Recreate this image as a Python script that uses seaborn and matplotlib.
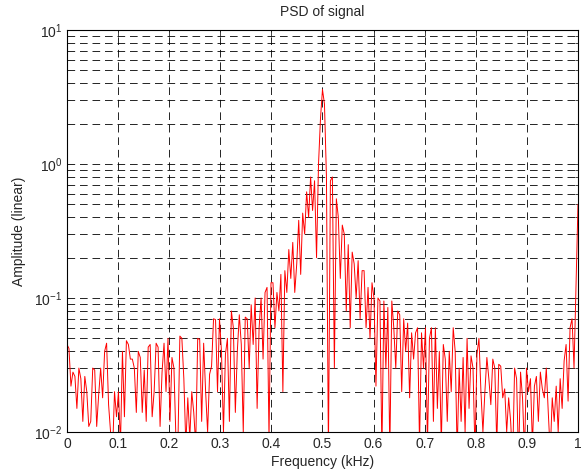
import numpy as np
import pandas as pd
import matplotlib
matplotlib.use('Agg')
import matplotlib.pyplot as plt
import matplotlib.ticker as mticker
import seaborn as sns

# Valores (PSD, escala lineal), por tramos de 0.1 kHz
psd_00_01 = [0.045, 0.042, 0.022, 0.028, 0.026, 0.015, 0.030, 0.025, 0.012, 0.026,
             0.020, 0.011, 0.012, 0.030, 0.029, 0.011, 0.019, 0.030, 0.018, 0.040,
             0.046, 0.016, 0.010, 0.007, 0.020, 0.013]
psd_01_02 = [0.020, 0.008, 0.040, 0.013, 0.048, 0.045, 0.035, 0.035, 0.030, 0.014,
             0.040, 0.036, 0.014, 0.029, 0.012, 0.043, 0.045, 0.013, 0.020, 0.046,
             0.043, 0.011, 0.028, 0.046, 0.020, 0.050]
psd_02_03 = [0.012, 0.036, 0.030, 0.009, 0.008, 0.052, 0.050, 0.025, 0.008, 0.018,
             0.009, 0.020, 0.014, 0.008, 0.050, 0.049, 0.012, 0.046, 0.020, 0.010,
             0.027, 0.031, 0.070, 0.069, 0.020, 0.070]
psd_03_04 = [0.040, 0.010, 0.038, 0.050, 0.012, 0.080, 0.060, 0.014, 0.040, 0.075,
             0.045, 0.010, 0.072, 0.070, 0.030, 0.089, 0.045, 0.100, 0.015, 0.060,
             0.100, 0.035, 0.110, 0.120, 0.009, 0.130]
psd_04_05 = [0.130, 0.060, 0.110, 0.080, 0.150, 0.020, 0.160, 0.110, 0.230, 0.140,
             0.260, 0.110, 0.180, 0.380, 0.150, 0.430, 0.300, 0.620, 0.400, 0.800,
             0.450, 0.750, 0.200, 1.000, 2.200, 3.600]
psd_05_06 = [2.800, 0.800, 0.007, 0.750, 0.800, 0.030, 0.550, 0.400, 0.140, 0.350,
             0.300, 0.080, 0.250, 0.060, 0.220, 0.180, 0.100, 0.190, 0.070, 0.160,
             0.160, 0.060, 0.120, 0.050, 0.130, 0.100]
psd_06_07 = [0.022, 0.100, 0.095, 0.007, 0.095, 0.030, 0.085, 0.007, 0.095, 0.060,
             0.030, 0.080, 0.075, 0.020, 0.070, 0.040, 0.065, 0.018, 0.055, 0.035,
             0.055, 0.060, 0.008, 0.055, 0.030, 0.060]
psd_07_08 = [0.008, 0.050, 0.060, 0.012, 0.060, 0.015, 0.040, 0.008, 0.045, 0.035,
             0.012, 0.040, 0.020, 0.060, 0.040, 0.007, 0.030, 0.012, 0.036, 0.010,
             0.050, 0.015, 0.037, 0.030, 0.007, 0.038]
psd_08_09 = [0.050, 0.020, 0.010, 0.020, 0.036, 0.025, 0.016, 0.035, 0.030, 0.008,
             0.032, 0.031, 0.018, 0.021, 0.010, 0.018, 0.012, 0.006, 0.030, 0.025,
             0.006, 0.028, 0.018, 0.007, 0.030, 0.020]
psd_09_10 = [0.025, 0.008, 0.022, 0.026, 0.012, 0.028, 0.021, 0.018, 0.030, 0.014,
             0.007, 0.018, 0.012, 0.022, 0.010, 0.025, 0.015, 0.034, 0.045, 0.017,
             0.060, 0.070, 0.030, 0.120, 0.500]

psd = (psd_00_01 + psd_01_02 + psd_02_03 + psd_03_04 + psd_04_05 +
       psd_05_06 + psd_06_07 + psd_07_08 + psd_08_09 + psd_09_10)
freq = np.linspace(0, 1, len(psd))  # bins de frecuencia (kHz)
df = pd.DataFrame({'freq': freq, 'psd': psd})

xticks = [0, 0.1, 0.2, 0.3, 0.4, 0.5, 0.6, 0.7, 0.8, 0.9, 1]
xticklabels = ['0', '0.1', '0.2', '0.3', '0.4', '0.5', '0.6', '0.7', '0.8', '0.9', '1']

# ---------- Estilo ----------
sns.set_style('ticks')
plt.rcParams['font.family'] = ['Liberation Sans', 'DejaVu Sans']
plt.rcParams['mathtext.fontset'] = 'custom'
plt.rcParams['mathtext.rm'] = 'Liberation Sans'
plt.rcParams['mathtext.it'] = 'Liberation Sans:italic'
plt.rcParams['lines.scale_dashes'] = False

fig = plt.figure(figsize=(5.84, 4.76), dpi=100)
ax = fig.add_axes([0.1147, 0.0924, 0.875, 0.8446])

sns.lineplot(data=df, x='freq', y='psd', color='red', linewidth=0.7,
             estimator=None, ax=ax)

ax.set_yscale('log')
ax.set_xlim(0, 1)
ax.set_ylim(1e-2, 1e1)
ax.set_xticks(xticks)
ax.set_xticklabels(xticklabels)
ax.yaxis.set_major_locator(mticker.LogLocator(base=10, numticks=10))
ax.yaxis.set_minor_locator(mticker.LogLocator(base=10, subs=np.arange(2, 10), numticks=10))
ax.yaxis.set_minor_formatter(mticker.NullFormatter())

grid_kw = dict(color='black', linewidth=0.6, linestyle=(0, (5.5, 3.5)))
ax.grid(True, which='major', axis='both', **grid_kw)
ax.grid(True, which='minor', axis='y', **grid_kw)

ax.tick_params(which='both', direction='in', top=True, right=True, labelsize=10)
ax.tick_params(which='major', length=4, width=0.6)
ax.tick_params(which='minor', length=2, width=0.6)
for s in ax.spines.values():
    s.set_linewidth(0.8)
    s.set_color('black')

ax.set_title('PSD of signal', fontsize=10, pad=10)
ax.set_xlabel('Frequency (kHz)', fontsize=10, labelpad=3)
ax.set_ylabel('Amplitude (linear)', fontsize=10, labelpad=6)

fig.savefig('out.png', dpi=100, facecolor='white')
